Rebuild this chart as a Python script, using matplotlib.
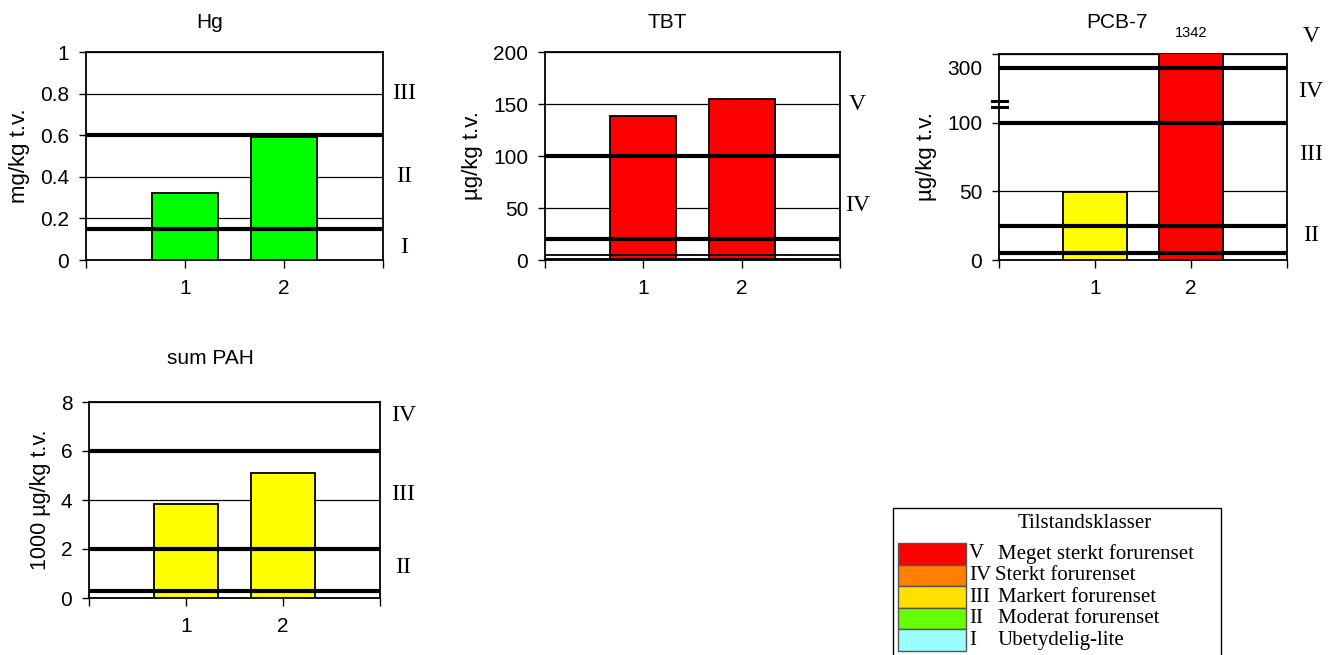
import numpy as np
import matplotlib
matplotlib.use('Agg')
import matplotlib.pyplot as plt
from matplotlib.patches import Rectangle

plt.rcParams['font.family'] = ['Liberation Sans', 'DejaVu Sans']

# data
stations = [1, 2]
station_labels = ['1', '2']

hg_vals = [0.32, 0.59]
hg_limits = [0.15, 0.6]
hg_classes = ['III', 'II', 'I']

tbt_vals = [138, 155]
tbt_limits = [20, 100]
tbt_small_limits = [1, 5]
tbt_classes = ['V', 'IV']

pcb_vals = [49.8, 1342]
pcb_limits = [5, 25, 100, 300]
pcb_classes = ['V', 'IV', 'III', 'II']

pah_vals = [3.85, 5.1]
pah_limits = [0.3, 2, 6]
pah_classes = ['IV', 'III', 'II']

legend_numerals = ['V', 'IV', 'III', 'II', 'I']
legend_names = ['Meget sterkt forurenset', 'Sterkt forurenset', 'Markert forurenset',
                'Moderat forurenset', 'Ubetydelig-lite']
legend_colors = ['#FF0000', '#FF7F00', '#FFE000', '#66FF00', '#99FFFF']

W, H = 1334, 655
fig = plt.figure(figsize=(W / 100, H / 100), dpi=100)


def add_ax(x0, y0, x1, y1):
    return fig.add_axes([x0 / W, 1 - y1 / H, (x1 - x0) / W, (y1 - y0) / H])


def style(ax, ylabel, lsize=16):
    ax.set_xlim(0, 3)
    ax.set_xticks([0, 1, 2, 3])
    ax.set_xticklabels([''] + station_labels + [''])
    for s in ax.spines.values():
        s.set_linewidth(1.3)
    ax.tick_params(axis='y', direction='out', length=5, width=1, pad=7, labelsize=15)
    ax.tick_params(axis='x', direction='out', length=6, width=1, pad=8, labelsize=15)
    ax.set_ylabel(ylabel, fontsize=lsize, labelpad=7)
    ax.yaxis.grid(True, color='black', linewidth=0.9)
    ax.set_axisbelow(True)


def romans(ax, labels, ys, x=1.07):
    for lab, y in zip(labels, ys):
        ax.text(x, y, lab, transform=ax.transAxes, ha='center', va='center',
                fontsize=17, family='Liberation Serif')


def thick(ax, levels, lw=3):
    for lv in levels:
        ax.axhline(lv, color='black', linewidth=lw, zorder=4)


# Hg
ax = add_ax(86, 52, 383, 260)
style(ax, 'mg/kg t.v.')
ax.set_ylim(0, 1)
ax.set_yticks([0, 0.2, 0.4, 0.6, 0.8, 1])
ax.set_yticklabels(['0', '0.2', '0.4', '0.6', '0.8', '1'])
ax.bar(stations, hg_vals, width=0.67, color='#00FF00', edgecolor='black', linewidth=1.3, zorder=3)
thick(ax, hg_limits)
romans(ax, hg_classes, [0.80, 0.40, 0.06])
fig.text(210 / W, 1 - 22 / H, 'Hg', ha='center', va='center', fontsize=15)

# TBT
ax = add_ax(545, 52, 840, 260)
style(ax, 'µg/kg t.v.')
ax.set_ylim(0, 200)
ax.set_yticks([0, 50, 100, 150, 200])
ax.bar(stations, tbt_vals, width=0.67, color='#FF0000', edgecolor='black', linewidth=1.3, zorder=3)
thick(ax, tbt_limits)
thick(ax, tbt_small_limits, lw=1.3)
romans(ax, tbt_classes, [0.75, 0.26], x=1.06)
fig.text(667 / W, 1 - 22 / H, 'TBT', ha='center', va='center', fontsize=15)

# PCB-7 with broken axis
k = 0.2


def fwd(v):
    v = np.asarray(v, dtype=float)
    return np.where(v <= 100, v, 100 + (v - 100) * k)


def inv(u):
    u = np.asarray(u, dtype=float)
    return np.where(u <= 100, u, 100 + (u - 100) / k)


ax = add_ax(999, 54, 1287, 260)
style(ax, 'µg/kg t.v.')
ax.set_yscale('function', functions=(fwd, inv))
ax.set_ylim(0, 350)
ax.set_yticks([0, 50, 100, 350])
ax.set_yticklabels(['0', '50', '100', ''])
ax.set_yticks([300], minor=True)
ax.set_yticklabels(['300'], minor=True)
ax.tick_params(axis='y', which='minor', length=0, pad=12, labelsize=15)
ax.yaxis.grid(True, which='major', color='black', linewidth=0.9)
ax.bar(stations, pcb_vals, width=0.67, color=['#FFFF00', '#FF0000'], edgecolor='black',
       linewidth=1.3, zorder=3)
thick(ax, pcb_limits)
ax.text(2, 1.1, '1342', transform=ax.get_xaxis_transform(), ha='center', va='center', fontsize=10.5)
for yy in [0.77, 0.745]:
    ax.plot([-0.025, 0.028], [yy, yy], transform=ax.transAxes, color='black', lw=2.2,
            clip_on=False, zorder=6)
romans(ax, pcb_classes, [1.083, 0.816, 0.51, 0.121], x=1.083)
fig.text(1117 / W, 1 - 22 / H, 'PCB-7', ha='center', va='center', fontsize=15)

# sum PAH
ax = add_ax(89, 402, 380, 598)
style(ax, '1000 µg/kg t.v.', lsize=15.5)
ax.set_ylim(0, 8)
ax.set_yticks([0, 2, 4, 6, 8])
ax.bar(stations, pah_vals, width=0.67, color='#FFFF00', edgecolor='black', linewidth=1.3, zorder=3)
thick(ax, pah_limits)
romans(ax, pah_classes, [0.93, 0.53, 0.155], x=1.08)
fig.text(210 / W, 1 - 358 / H, 'sum PAH', ha='center', va='center', fontsize=15)

# legend box
lax = fig.add_axes([0, 0, 1, 1])
lax.set_xlim(0, W)
lax.set_ylim(H, 0)
lax.axis('off')
lax.add_patch(Rectangle((893, 508), 328, 160, facecolor='white', edgecolor='black', lw=1))
lax.text(1085, 524, 'Tilstandsklasser', ha='center', va='center', fontsize=15,
         family='Liberation Serif')
name_x = [998, 995, 998, 998, 998]
row_h = 21.6
for i, (num, name, col) in enumerate(zip(legend_numerals, legend_names, legend_colors)):
    top = 543 + i * row_h
    lax.add_patch(Rectangle((898, top), 68, row_h, facecolor=col, edgecolor='#555555', lw=1))
    lax.text(969, top + row_h / 2, num, ha='left', va='center', fontsize=15,
             family='Liberation Serif')
    lax.text(name_x[i], top + row_h / 2, name, ha='left', va='center', fontsize=15,
             family='Liberation Serif')

fig.savefig('out.png', dpi=100)
